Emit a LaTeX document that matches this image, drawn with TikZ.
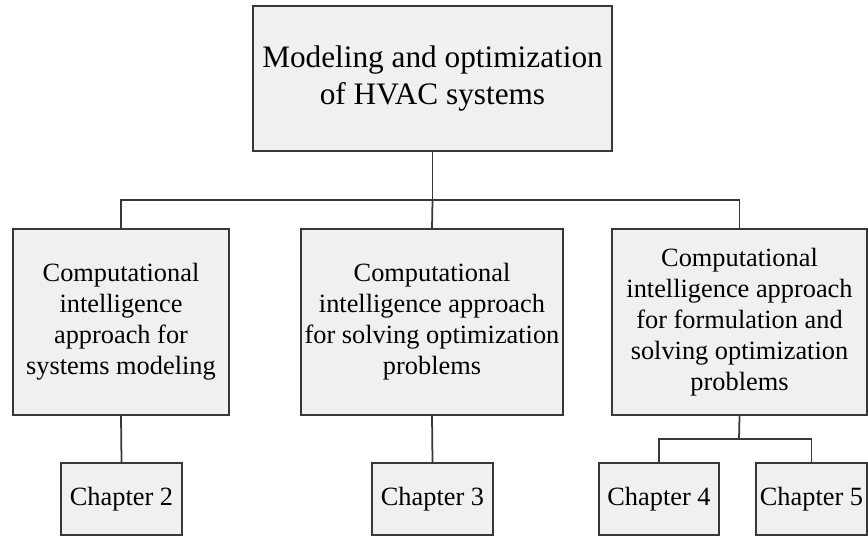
\documentclass[tikz,border=0pt]{standalone}
\usepackage{fontspec}
\setmainfont{Liberation Serif}
\usetikzlibrary{positioning}

\definecolor{boxfill}{HTML}{F0F0F0}
\definecolor{boxline}{HTML}{383838}

\tikzset{
  block/.style={draw=boxline, line width=1pt, fill=boxfill, align=center, inner sep=0pt,
    font=\fontsize{15}{17.6}\selectfont},
  chap/.style={block, minimum width=2.42cm, minimum height=1.44cm},
  link/.style={draw=boxline, line width=1pt}
}

\begin{document}
\begin{tikzpicture}[x=0.02cm, y=-0.02cm]
\useasboundingbox (0,0) rectangle (868,538);
\node[block, minimum width=7.18cm, minimum height=2.9cm, font=\fontsize{17.8}{21.6}\selectfont] (top) at (432.5,78.5) {Modeling and optimization\\of HVAC systems};
\node[block, minimum width=4.32cm, minimum height=3.72cm] (model) at (121,322) {Computational\\intelligence\\approach for\\systems modeling};
\node[block, minimum width=5.24cm, minimum height=3.72cm] (solve) at (432,322) {Computational\\intelligence approach\\for solving optimization\\problems};
\node[block, minimum width=5.1cm, minimum height=3.72cm] (form) at (739.5,322) {Computational\\intelligence approach\\for formulation and\\solving optimization\\problems};
\node[chap] (ch2) at (121.5,499) {Chapter 2};
\node[chap] (ch3) at (432.5,499) {Chapter 3};
\node[chap, minimum width=2.4cm] (ch4) at (659,499) {Chapter 4};
\node[chap, minimum width=2.22cm] (ch5) at (811.5,499) {Chapter 5};
\coordinate (bus) at (432.5,200);
\coordinate (split) at (739,439);
% tree lines
\draw[link] (top.south) -- (bus);
\draw[link] (model.north) |- (bus) -| (form.north);
\draw[link] (bus) -- (solve.north);
\draw[link] (model.south) -- (ch2.north);
\draw[link] (solve.south) -- (ch3.north);
\draw[link] (form.south) -- (split);
\draw[link] (ch4.north) |- (split) -| (ch5.north);
\end{tikzpicture}
\end{document}
